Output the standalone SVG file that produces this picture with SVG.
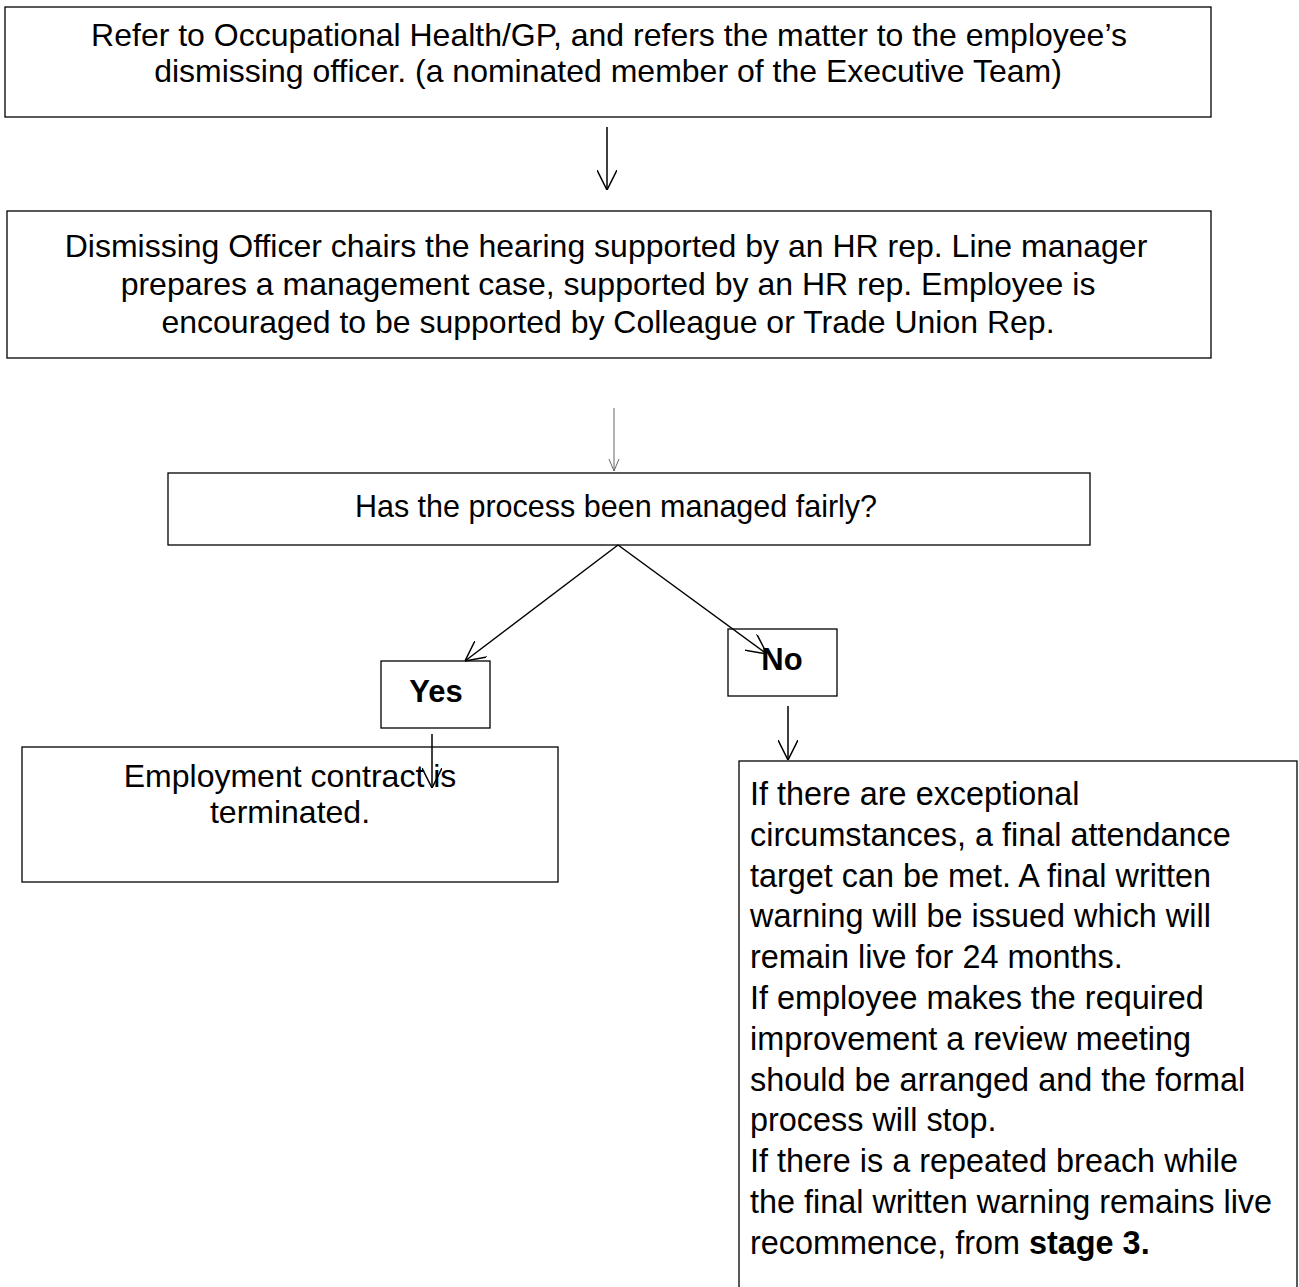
<svg xmlns="http://www.w3.org/2000/svg" width="1299" height="1287" viewBox="0 0 1299 1287">
<style>
.box{fill:#fff;stroke:#000;stroke-width:1.3}
.t{font-family:"Liberation Sans",Arial,sans-serif;font-size:32px;fill:#000}
.q{font-size:30.5px}
.p{font-size:32.4px}
.c{text-anchor:middle}
.b{font-weight:bold}
.lb{font-size:31px}
.con{stroke:#000;stroke-width:1.5;fill:none}
.thin{stroke:#666;stroke-width:1;fill:none}
</style>
<defs>
<marker id="ah" viewBox="0 0 20 20" refX="20" refY="10" markerWidth="20" markerHeight="20" markerUnits="userSpaceOnUse" orient="auto">
<path d="M0,0 L20,10 L0,20" fill="none" stroke="#000" stroke-width="1.5"/>
</marker>
<marker id="ahs" viewBox="0 0 12 12" refX="12" refY="6" markerWidth="12" markerHeight="12" markerUnits="userSpaceOnUse" orient="auto">
<path d="M0,1 L12,6 L0,11" fill="none" stroke="#666" stroke-width="1"/>
</marker>
</defs>
<rect width="1299" height="1287" fill="#fff"/>
<g id="n1">
<rect class="box" x="5" y="7" width="1206" height="110"/>
<text class="t c" x="609" y="46">Refer to Occupational Health/GP, and refers the matter to the employee’s</text>
<text class="t c" x="608" y="82">dismissing officer. (a nominated member of the Executive Team)</text>
</g>
<g id="n2">
<rect class="box" x="7" y="211" width="1204" height="147"/>
<text class="t c" x="606" y="257">Dismissing Officer chairs the hearing supported by an HR rep. Line manager</text>
<text class="t c" x="608" y="295">prepares a management case, supported by an HR rep. Employee is</text>
<text class="t c" x="608" y="333">encouraged to be supported by Colleague or Trade Union Rep.</text>
</g>
<g id="n3">
<rect class="box" x="168" y="473" width="922" height="72"/>
<text class="t q c" x="616" y="517">Has the process been managed fairly?</text>
</g>
<g id="yes">
<rect class="box" x="381" y="661" width="109" height="67"/>
<text class="t lb c b" x="436" y="702">Yes</text>
</g>
<g id="no">
<rect class="box" x="728" y="629" width="109" height="67"/>
<text class="t lb c b" x="782" y="670">No</text>
</g>
<g id="n4">
<rect class="box" x="22" y="747" width="536" height="135"/>
<text class="t c" x="290" y="787">Employment contract is</text>
<text class="t c" x="290" y="823">terminated.</text>
</g>
<g id="n5">
<rect class="box" x="739" y="761" width="558" height="540"/>
<text class="t p" x="750" y="805">If there are exceptional</text>
<text class="t p" x="750" y="846">circumstances, a final attendance</text>
<text class="t p" x="750" y="887">target can be met. A final written</text>
<text class="t p" x="750" y="927">warning will be issued which will</text>
<text class="t p" x="750" y="968">remain live for 24 months.</text>
<text class="t p" x="750" y="1009">If employee makes the required</text>
<text class="t p" x="750" y="1050">improvement a review meeting</text>
<text class="t p" x="750" y="1091">should be arranged and the formal</text>
<text class="t p" x="750" y="1131">process will stop.</text>
<text class="t p" x="750" y="1172">If there is a repeated breach while</text>
<text class="t p" x="750" y="1213">the final written warning remains live</text>
<text class="t p" x="750" y="1254">recommence, from <tspan class="b">stage 3.</tspan></text>
</g>
<g id="connectors">
<line class="con" x1="607" y1="127" x2="607" y2="190" marker-end="url(#ah)"/>
<line class="thin" x1="614" y1="408" x2="614" y2="471" marker-end="url(#ahs)"/>
<line class="con" x1="618" y1="545" x2="465" y2="661" marker-end="url(#ah)"/>
<line class="con" x1="618" y1="545" x2="767" y2="654" marker-end="url(#ah)"/>
<line class="con" x1="432" y1="734" x2="432" y2="788" marker-end="url(#ah)"/>
<line class="con" x1="788" y1="706" x2="788" y2="760" marker-end="url(#ah)"/>
</g>
</svg>
